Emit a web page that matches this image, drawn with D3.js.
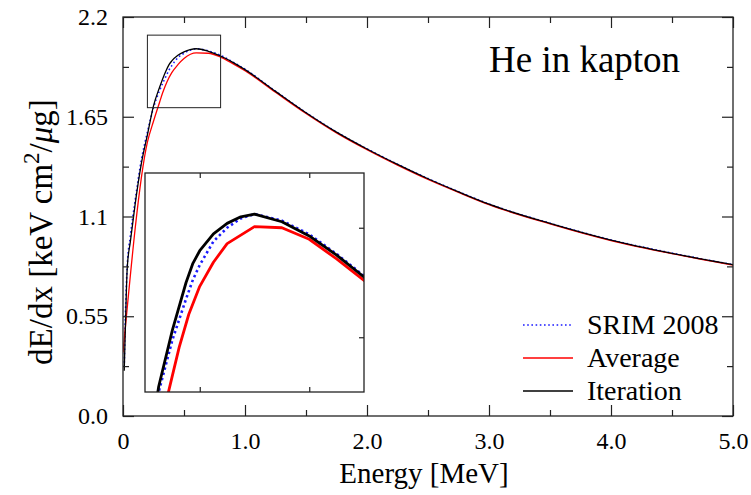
<!DOCTYPE html>
<html>
<head>
<meta charset="utf-8">
<script src="https://cdn.jsdelivr.net/npm/d3@7"></script>
<style>
  body { margin: 0; background: #fff; }
  svg text { font-family: "Liberation Serif", "Times New Roman", Times, "DejaVu Serif", serif !important; fill: #000; }
</style>
</head>
<body>
<div class="chart"></div>
<script>
// data
var energy = [0.01, 0.02, 0.035, 0.06, 0.1, 0.15, 0.2, 0.25, 0.3, 0.35, 0.375, 0.4, 0.45, 0.5, 0.55, 0.6,
  0.7, 0.8, 0.9, 1.0, 1.25, 1.5, 1.75, 2.0, 2.25, 2.5, 2.75, 3.0, 3.5, 4.0, 4.5, 5.0];
var srim = [0.27, 0.56, 0.83, 0.99, 1.19, 1.41, 1.565, 1.70, 1.795, 1.87, 1.905, 1.932, 1.975, 2.000, 2.017, 2.025,
  2.013, 1.988, 1.952, 1.912, 1.791, 1.673, 1.566, 1.473, 1.388, 1.309, 1.237, 1.169, 1.063, 0.971, 0.898, 0.835];
var iteration = [0.25, 0.50, 0.82, 0.96, 1.17, 1.39, 1.55, 1.71, 1.813, 1.90, 1.935, 1.958, 1.989, 2.008, 2.020, 2.025,
  2.011, 1.985, 1.950, 1.910, 1.790, 1.672, 1.565, 1.472, 1.387, 1.308, 1.236, 1.168, 1.062, 0.970, 0.897, 0.834];

var energyAvg = [0, 0.2, 0.25, 0.3, 0.325, 0.36, 0.4, 0.45, 0.5, 0.6, 0.7, 0.8, 0.9, 1.0,
  1.25, 1.5, 1.75, 2.0, 2.25, 2.5, 2.75, 3.0, 3.5, 4.0, 4.5, 5.0];
var average = [0.35, 1.51, 1.625, 1.73, 1.782, 1.842, 1.893, 1.937, 1.971, 2.002, 2.000, 1.979, 1.943, 1.904,
  1.785, 1.668, 1.561, 1.468, 1.383, 1.304, 1.233, 1.165, 1.059, 0.967, 0.895, 0.832];

var xMajor = [0, 1, 2, 3, 4, 5];
var xLabels = ["0", "1.0", "2.0", "3.0", "4.0", "5.0"];
var xMinor = [0.5, 1.5, 2.5, 3.5, 4.5];
var yMajor = [0, 0.55, 1.1, 1.65, 2.2];
var yLabels = ["0.0", "0.55", "1.1", "1.65", "2.2"];
var yMinor = [0.275, 0.825, 1.375, 1.925];

var zoomX = [0.2, 0.8];      // box drawn on the main plot
var zoomY = [1.7, 2.1];
var insetX = [0.2, 1.0];     // range shown in the inset
var insetY = [1.7, 2.1];
var insetXTicks = [0.4, 0.8];
var insetYTicks = [1.8, 2.0];

var legendNames = ["SRIM 2008", "Average", "Iteration"];

var svgWidth = 751;
var svgHeight = 495;
var margin = {top: 17, right: 18, bottom: 79, left: 123};
var width = svgWidth - margin.left - margin.right;
var height = svgHeight - margin.top - margin.bottom;

var svg = d3.select(".chart")
  .append("svg")
  .attr("width", svgWidth)
  .attr("height", svgHeight)
  .attr("font-family", "Liberation Serif");

var chartGroup = svg.append("g")
  .attr("transform", `translate(${margin.left}, ${margin.top})`);

var x = d3.scaleLinear().domain([0, 5]).range([0, width]);
var y = d3.scaleLinear().domain([0, 2.2]).range([height, 0]);

var series = [
  {name: "srim", xs: energy, ys: srim, color: "#1a1aff", dash: "1.6,2.6"},
  {name: "avg", xs: energyAvg, ys: average, color: "#ff0000", dash: null},
  {name: "iter", xs: energy, ys: iteration, color: "#000", dash: null}
];

function pts(s) {
  return s.xs.map(function(e, i) { return [e, s.ys[i]]; });
}

// clip
svg.append("clipPath").attr("id", "mainClip")
  .append("rect").attr("width", width).attr("height", height);

var lineMain = d3.line().x(d => x(d[0])).y(d => y(d[1])).curve(d3.curveMonotoneX);

chartGroup.append("g").attr("clip-path", "url(#mainClip)")
  .selectAll("path")
  .data(series)
  .enter()
  .append("path")
  .attr("d", d => lineMain(pts(d)))
  .attr("fill", "none")
  .attr("stroke", d => d.color)
  .attr("stroke-width", d => d.dash ? 1.6 : 1.3)
  .attr("stroke-dasharray", d => d.dash);

// ticks, inward on all four sides
function tickAxis(axisFn, scale, values, size, tx, ty) {
  var g = chartGroup.append("g")
    .attr("transform", `translate(${tx}, ${ty})`)
    .call(axisFn(scale).tickValues(values).tickSize(size).tickFormat(""));
  g.select(".domain").remove();
  g.selectAll("line").attr("stroke", "#222").attr("stroke-width", 1.2);
}
tickAxis(d3.axisBottom, x, xMajor, -11, 0, height);
tickAxis(d3.axisBottom, x, xMinor, -6, 0, height);
tickAxis(d3.axisTop, x, xMajor, -11, 0, 0);
tickAxis(d3.axisTop, x, xMinor, -6, 0, 0);
tickAxis(d3.axisLeft, y, yMajor, -11, 0, 0);
tickAxis(d3.axisLeft, y, yMinor, -6, 0, 0);
tickAxis(d3.axisRight, y, yMajor, -11, width, 0);
tickAxis(d3.axisRight, y, yMinor, -6, width, 0);

// tick labels
var xAxis = chartGroup.append("g")
  .attr("transform", `translate(0, ${height})`)
  .call(d3.axisBottom(x).tickValues(xMajor).tickSize(0).tickPadding(16)
    .tickFormat((d, i) => xLabels[i]));
xAxis.select(".domain").remove();
xAxis.attr("font-family", null).attr("font-size", 24);

var yAxis = chartGroup.append("g")
  .call(d3.axisLeft(y).tickValues(yMajor).tickSize(0).tickPadding(15)
    .tickFormat((d, i) => yLabels[i]));
yAxis.select(".domain").remove();
yAxis.attr("font-family", null).attr("font-size", 24);

// frame
chartGroup.append("rect")
  .attr("width", width).attr("height", height)
  .attr("fill", "none").attr("stroke", "#222").attr("stroke-width", 1.3);

// zoom box
chartGroup.append("rect")
  .attr("x", x(zoomX[0])).attr("y", y(zoomY[1]))
  .attr("width", x(zoomX[1]) - x(zoomX[0]))
  .attr("height", y(zoomY[0]) - y(zoomY[1]))
  .attr("fill", "none").attr("stroke", "#222").attr("stroke-width", 1);

// inset
var inset = {left: 145, top: 173, size: 219};
var insetGroup = svg.append("g")
  .attr("transform", `translate(${inset.left}, ${inset.top})`);
var ix = d3.scaleLinear().domain(insetX).range([0, inset.size]);
var iy = d3.scaleLinear().domain(insetY).range([inset.size, 0]);

svg.append("clipPath").attr("id", "insetClip")
  .append("rect").attr("width", inset.size).attr("height", inset.size);

insetGroup.append("rect")
  .attr("width", inset.size).attr("height", inset.size)
  .attr("fill", "#fff");

var lineInset = d3.line().x(d => ix(d[0])).y(d => iy(d[1]));
insetGroup.append("g").attr("clip-path", "url(#insetClip)")
  .selectAll("path")
  .data(series)
  .enter()
  .append("path")
  .attr("d", d => lineInset(pts(d)))
  .attr("fill", "none")
  .attr("stroke", d => d.color)
  .attr("stroke-width", d => d.dash ? 2.6 : 2.8)
  .attr("stroke-dasharray", d => d.dash ? "2.4,3" : null)
  .attr("stroke-linejoin", "round");

function insetTicks(axisFn, scale, values, tx, ty) {
  var g = insetGroup.append("g")
    .attr("transform", `translate(${tx}, ${ty})`)
    .call(axisFn(scale).tickValues(values).tickSize(-5).tickFormat(""));
  g.select(".domain").remove();
  g.selectAll("line").attr("stroke", "#222").attr("stroke-width", 1.2);
}
insetTicks(d3.axisBottom, ix, insetXTicks, 0, inset.size);
insetTicks(d3.axisTop, ix, insetXTicks, 0, 0);
insetTicks(d3.axisRight, iy, insetYTicks, inset.size, 0);

insetGroup.append("rect")
  .attr("width", inset.size).attr("height", inset.size)
  .attr("fill", "none").attr("stroke", "#222").attr("stroke-width", 1.3);

// axis titles
svg.append("text")
  .attr("x", margin.left + width / 2 - 4)
  .attr("y", 483)
  .attr("text-anchor", "middle")
  .attr("font-size", 29)
  .text("Energy [MeV]");

var yTitle = svg.append("text")
  .attr("transform", "translate(52, 232) rotate(-90)")
  .attr("text-anchor", "middle")
  .attr("font-size", 33);
yTitle.append("tspan").text("dE/dx [keV cm");
yTitle.append("tspan").attr("font-size", 23).attr("dy", -13).text("2");
yTitle.append("tspan").attr("dy", 13).text("/");
yTitle.append("tspan").attr("font-style", "italic").text("\u03bc");
yTitle.append("tspan").text("g]");

// plot title
svg.append("text")
  .attr("x", 489)
  .attr("y", 72)
  .attr("font-size", 37)
  .text("He in kapton");

// legend
var legend = svg.append("g").attr("transform", "translate(523, 325)");
var rows = legend.selectAll("g")
  .data(series)
  .enter()
  .append("g")
  .attr("transform", (d, i) => `translate(0, ${i * 33})`);
rows.append("line")
  .attr("x1", 0).attr("x2", 50)
  .attr("stroke", d => d.color)
  .attr("stroke-width", d => d.dash ? 1.6 : 1.3)
  .attr("stroke-dasharray", d => d.dash);
rows.append("text")
  .attr("x", 64).attr("y", 9)
  .attr("font-size", 28)
  .text((d, i) => legendNames[i]);
</script>
</body>
</html>
